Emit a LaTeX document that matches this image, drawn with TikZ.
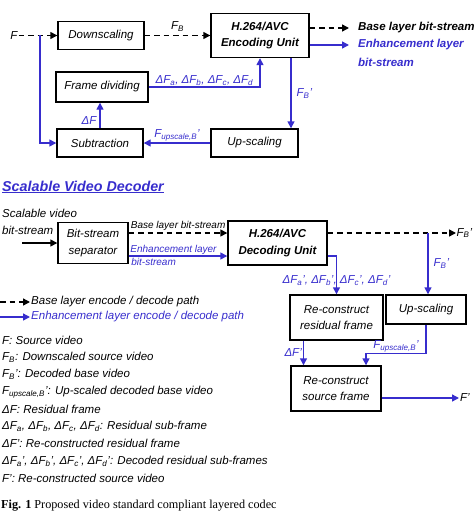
\documentclass[tikz,border=0pt]{standalone}
\usepackage{fontspec}
\setmainfont{Liberation Sans}
\newfontfamily\seriffam{Liberation Serif}
\usepackage{xcolor}
\usepackage{tikz}
\usetikzlibrary{arrows.meta,positioning,calc}
\definecolor{enhblue}{RGB}{55,45,205}
\newcommand{\bodyfont}{\fontsize{11.5}{16.5}\selectfont\itshape}
\newcommand{\smallfont}{\fontsize{10}{12}\selectfont\itshape}
\newcommand{\titlefont}{\fontsize{14.3}{17}\selectfont\bfseries\itshape}
\newcommand{\capfont}{\fontsize{12.2}{14}\selectfont\seriffam\upshape}
\tikzset{
  blk/.style     ={draw,line width=1.4pt,align=center,inner sep=0pt,font=\bodyfont},
  unit/.style    ={blk,font=\bodyfont\bfseries},
  lbl/.style     ={inner sep=1pt,font=\bodyfont},
  tip/.style     ={-{Triangle[length=7pt,width=7pt]}},
  basepath/.style={tip,line width=1.4pt,dash pattern=on 5.5pt off 4pt},
  solidpath/.style={tip,line width=1.4pt},
  enhpath/.style ={tip,enhblue,line width=1.4pt},
}

\begin{document}
\begin{tikzpicture}[x=1pt,y=-1pt]
  \useasboundingbox (0,0) rectangle (474,511);
  % encoder blocks
  \node[blk,minimum width=86,minimum height=28] (down) at (101,35.5) {Downscaling};
  \node[unit,minimum width=98,minimum height=44] (enc) at (260,35.5) {H.264/AVC\\Encoding Unit};
  \node[blk,minimum width=92,minimum height=30] (fdiv) at (102,87) {Frame dividing};
  \node[blk,minimum width=86,minimum height=28] (subtr) at (100,143) {Subtraction};
  \node[blk,minimum width=87,minimum height=28] (upsE) at (254.5,143) {Up-scaling};
  \node[lbl] (Fin) at (14,35.5) {F};
  \coordinate (split) at (40,35.5);
  \draw[basepath] (Fin) -- (down);
  \draw[enhpath] (split) |- (subtr);
  \draw[basepath] (down) -- node[lbl,above=2pt] {F\textsubscript{B}} (enc);
  \draw[enhpath] (subtr) -- node[lbl,pos=0.3,left=2pt] {ΔF} (subtr |- fdiv.south);
  \draw[enhpath] (fdiv) -| node[lbl,pos=0.25,above] {ΔF\textsubscript{a}, ΔF\textsubscript{b}, ΔF\textsubscript{c}, ΔF\textsubscript{d}} (enc);
  \coordinate (fbE) at ([xshift=31pt]enc.south);
  \draw[enhpath] (fbE) -- node[lbl,right=4pt] {F\textsubscript{B}'} (fbE |- upsE.north);
  \draw[enhpath] (upsE) -- node[lbl,above] {F\textsubscript{upscale,B}'} (subtr);
  % encoder outputs
  \node[lbl,anchor=west,font=\bodyfont\bfseries] (baseE) at (357,28) {Base layer bit-stream};
  \node[lbl,anchor=west,font=\bodyfont\bfseries,text=enhblue] (enhE) at (357,45) {Enhancement layer};
  \node[lbl,anchor=west,font=\bodyfont\bfseries,text=enhblue] (enhE2) at (357,62) {bit-stream};
  \draw[basepath,shorten >=8pt] (enc.east |- baseE) -- (baseE);
  \draw[enhpath,shorten >=8pt] (enc.east |- enhE) -- (enhE);

  % decoder
  \node[anchor=west,inner sep=1pt,font=\titlefont,text=enhblue] (dtitle) at (1,187) {\underline{Scalable Video Decoder}};
  \node[lbl,anchor=west] (bsA) at (1,213) {Scalable video};
  \node[lbl,anchor=west] (bsB) at (1,230) {bit-stream};
  \node[blk,minimum width=70,minimum height=41] (sep) at (93,243) {Bit-stream\\separator};
  \node[unit,minimum width=99,minimum height=44] (dec) at (277.5,243) {H.264/AVC\\Decoding Unit};
  \node[blk,minimum width=80,minimum height=29] (upsD) at (426,309.5) {Up-scaling};
  \node[blk,minimum width=93,minimum height=45] (resid) at (336.5,317.5) {Re-construct\\residual frame};
  \node[blk,minimum width=90,minimum height=45] (srcf) at (336,388.5) {Re-construct\\source frame};
  \coordinate (bsin) at (22,243);
  \draw[solidpath] (bsin) -- (sep);
  \draw[basepath] ([yshift=10pt]sep.east) -- node[pos=0,above right,inner sep=1.5pt,font=\smallfont] {Base layer bit-stream} ([yshift=10pt]dec.west);
  \draw[enhpath] ([yshift=-13pt]sep.east) -- node[pos=0,above right,inner sep=1pt,font=\smallfont] {Enhancement layer}
    node[pos=0,below right,inner sep=2pt,font=\smallfont] {bit-stream} ([yshift=-13pt]dec.west);
  \node[lbl,anchor=west,inner sep=0.5pt] (FBout) at (456,233) {F\textsubscript{B}'};
  \draw[basepath] ([yshift=10pt]dec.east) -- (FBout);
  \coordinate (fbD) at (428,233);
  \draw[enhpath] (fbD) -- node[lbl,right=4pt] {F\textsubscript{B}'} (fbD |- upsD.north);
  \draw[enhpath] ([yshift=-13pt]dec.east) -| node[lbl,pos=0.82] {ΔF\textsubscript{a}', ΔF\textsubscript{b}', ΔF\textsubscript{c}', ΔF\textsubscript{d}'} (resid);
  \coordinate (dFo) at ([xshift=-33pt]resid.south);
  \draw[enhpath] (dFo) -- node[lbl,left] {ΔF'} (dFo |- srcf.north);
  \draw[enhpath] (upsD.south) -- ++(0,29) -| node[lbl,pos=0.25,above] {F\textsubscript{upscale,B}'} ([xshift=30pt]srcf.north);
  \node[lbl,anchor=west] (Fout) at (459,398) {F'};
  \draw[enhpath] ([yshift=-9.5pt]srcf.east) -- (Fout);

  % legend
  \coordinate (lgA) at (0,302);
  \coordinate (lgB) at (0,317);
  \node[lbl,anchor=west] (lgbase) at (30,302) {Base layer encode / decode path};
  \node[lbl,anchor=west,text=enhblue] (lgenh) at (30,317) {Enhancement layer encode / decode path};
  \draw[basepath] (lgA) -- (lgbase);
  \draw[enhpath] (lgB) -- (lgenh);
  \foreach \i/\txt in {0/{F: Source video},
      1/{F\textsubscript{B}: Downscaled source video},
      2/{F\textsubscript{B}': Decoded base video},
      3/{F\textsubscript{upscale,B}': Up-scaled decoded base video},
      4/{ΔF: Residual frame},
      5/{ΔF\textsubscript{a}, ΔF\textsubscript{b}, ΔF\textsubscript{c}, ΔF\textsubscript{d}: Residual sub-frame},
      6/{ΔF': Re-constructed residual frame},
      7/{ΔF\textsubscript{a}', ΔF\textsubscript{b}', ΔF\textsubscript{c}', ΔF\textsubscript{d}': Decoded residual sub-frames},
      8/{F': Re-constructed source video}}{
    \node[lbl,anchor=west] (def\i) at (1,{340+17.3*\i}) {\txt};
  }
  \node[anchor=west,inner sep=1pt,font=\capfont] (cap) at (0,506) {\textbf{Fig. 1} Proposed video standard compliant layered codec};
\end{tikzpicture}
\end{document}
